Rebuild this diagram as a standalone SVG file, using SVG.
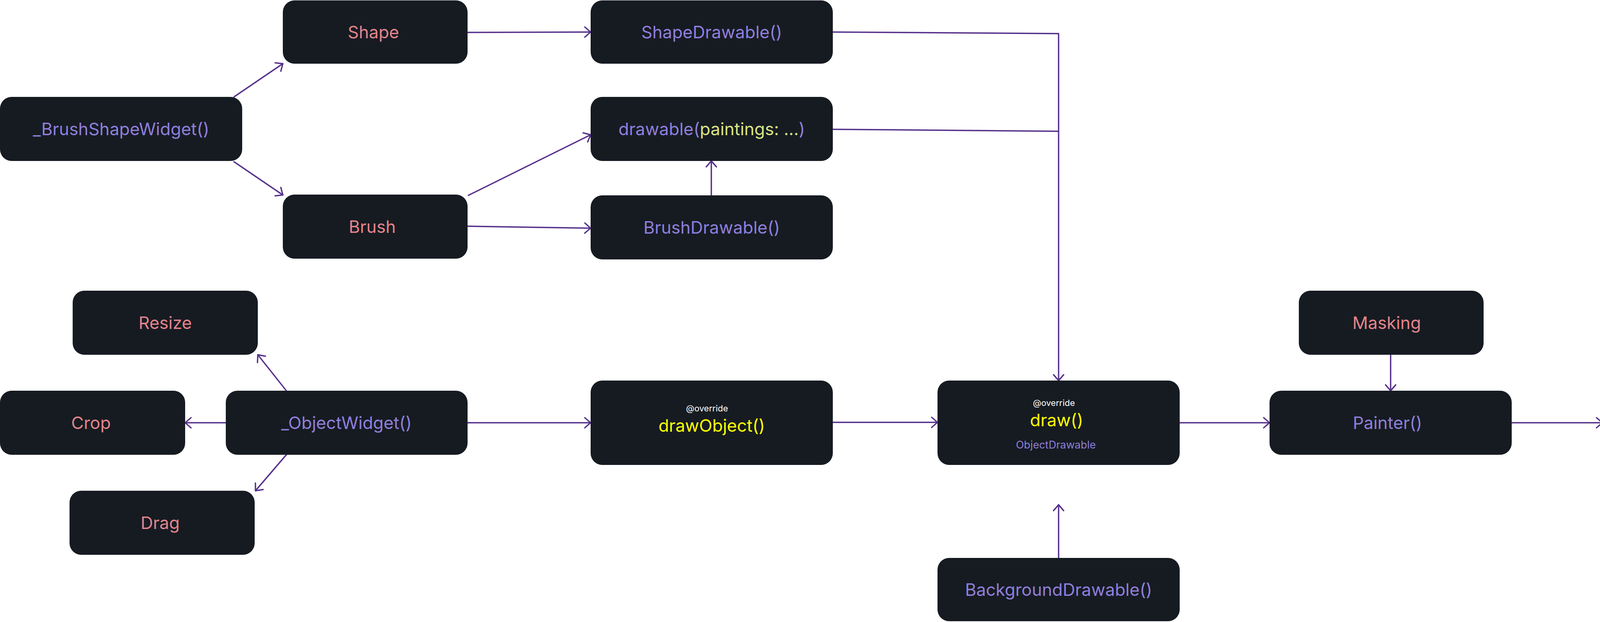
<svg xmlns="http://www.w3.org/2000/svg" width="4720" height="1592" viewBox="0 0 4720 1592">
<style>
.box{fill:#161b22;}
.t{font-family:Inter,"Noto Sans","Liberation Sans",sans-serif;font-size:44px;text-anchor:middle;dominant-baseline:central;}
.coral{fill:#e5848a;}
.purple{fill:#8f7fdc;}
.yellow{fill:#ffff00;}
.white{fill:#ffffff;}
.lime{fill:#d9e483;}
.small{font-size:22px;}
.mid{font-size:27px;}
.edge{fill:none;stroke:#56318c;stroke-width:3.5;stroke-linecap:round;stroke-linejoin:round;}
</style>
<defs>
<marker id="arr" markerUnits="userSpaceOnUse" viewBox="-20 -18 24 36" markerWidth="24" markerHeight="36" refX="0" refY="0" orient="auto">
<path d="M -15 -13 L 0 0 L -15 13" fill="none" stroke="#56318c" stroke-width="3.5" stroke-linecap="round" stroke-linejoin="round"/>
</marker>
</defs>
<rect width="4720" height="1592" fill="#ffffff"/>
<g id="connectors">
<path class="edge" d="M 599 248 L 724 163" marker-end="url(#arr)"/>
<path class="edge" d="M 599 414 L 724 499" marker-end="url(#arr)"/>
<path class="edge" d="M 1197 83 L 1512 82" marker-end="url(#arr)"/>
<path class="edge" d="M 1199 500 L 1512 345" marker-end="url(#arr)"/>
<path class="edge" d="M 1197 579 L 1512 584" marker-end="url(#arr)"/>
<path class="edge" d="M 1821 500 L 1821 412" marker-end="url(#arr)"/>
<path class="edge" d="M 2132 82 L 2710 86 L 2710 974" marker-end="url(#arr)"/>
<path class="edge" d="M 2132 331 L 2710 336"/>
<path class="edge" d="M 733 1000 L 660 908" marker-end="url(#arr)"/>
<path class="edge" d="M 578 1082 L 474 1082" marker-end="url(#arr)"/>
<path class="edge" d="M 733 1164 L 654 1256" marker-end="url(#arr)"/>
<path class="edge" d="M 1197 1082 L 1512 1082" marker-end="url(#arr)"/>
<path class="edge" d="M 2132 1081 L 2400 1081" marker-end="url(#arr)"/>
<path class="edge" d="M 2710 1428 L 2710 1292" marker-end="url(#arr)"/>
<path class="edge" d="M 3020 1082 L 3250 1082" marker-end="url(#arr)"/>
<path class="edge" d="M 3560 908 L 3560 1000" marker-end="url(#arr)"/>
<path class="edge" d="M 3870 1082 L 4102 1082" marker-end="url(#arr)"/>
</g>
<g id="brushShapeWidget"><rect class="box" x="0" y="248" width="620" height="164" rx="30"/><text class="t purple" x="310" y="330">_BrushShapeWidget()</text></g>
<g id="shape"><rect class="box" x="724" y="1" width="473" height="162" rx="30"/><text class="t coral" x="956" y="82">Shape</text></g>
<g id="brush"><rect class="box" x="724" y="498" width="473" height="164" rx="30"/><text class="t coral" x="953" y="580">Brush</text></g>
<g id="shapeDrawable"><rect class="box" x="1512" y="1" width="620" height="162" rx="30"/><text class="t purple" x="1822" y="82">ShapeDrawable()</text></g>
<g id="drawable"><rect class="box" x="1512" y="248" width="620" height="164" rx="30"/><text class="t" x="1822" y="330"><tspan class="purple">drawable(</tspan><tspan class="lime">paintings: ...</tspan><tspan class="purple">)</tspan></text></g>
<g id="brushDrawable"><rect class="box" x="1512" y="500" width="620" height="164" rx="30"/><text class="t purple" x="1822" y="582">BrushDrawable()</text></g>
<g id="resize"><rect class="box" x="186" y="744" width="474" height="164" rx="30"/><text class="t coral" x="423" y="826">Resize</text></g>
<g id="crop"><rect class="box" x="0" y="1000" width="474" height="164" rx="30"/><text class="t coral" x="233" y="1082">Crop</text></g>
<g id="objectWidget"><rect class="box" x="578" y="1000" width="619" height="164" rx="30"/><text class="t purple" x="887" y="1082">_ObjectWidget()</text></g>
<g id="drag"><rect class="box" x="178" y="1256" width="474" height="164" rx="30"/><text class="t coral" x="410" y="1338">Drag</text></g>
<g id="drawObject"><rect class="box" x="1512" y="974" width="620" height="216" rx="30"/><text class="t white small" x="1810" y="1045">@override</text><text class="t yellow" x="1822" y="1089">drawObject()</text></g>
<g id="draw"><rect class="box" x="2400" y="974" width="620" height="216" rx="30"/><text class="t white small" x="2698" y="1031">@override</text><text class="t yellow" x="2705" y="1075">draw()</text><text class="t purple mid" x="2703" y="1138">ObjectDrawable</text></g>
<g id="backgroundDrawable"><rect class="box" x="2400" y="1428" width="620" height="162" rx="30"/><text class="t purple" x="2710" y="1509">BackgroundDrawable()</text></g>
<g id="masking"><rect class="box" x="3325" y="744" width="473" height="164" rx="30"/><text class="t coral" x="3550" y="826">Masking</text></g>
<g id="painter"><rect class="box" x="3250" y="1000" width="620" height="164" rx="30"/><text class="t purple" x="3552" y="1082">Painter()</text></g>
<g id="imageStickerEditor"><rect class="box" x="4102" y="1000" width="616" height="164" rx="30"/><text class="t purple" x="4410" y="1082">ImageStickerEditor()</text></g>
</svg>
